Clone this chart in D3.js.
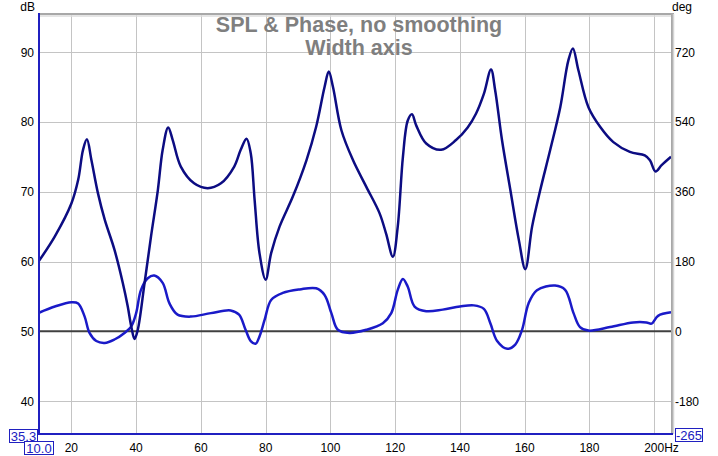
<!DOCTYPE html>
<html><head><meta charset="utf-8">
<script src="https://cdn.jsdelivr.net/npm/d3@7"></script>
<style>
html,body{margin:0;padding:0;background:#fff;}
svg{display:block;font-family:"Liberation Sans",Arial,sans-serif;}
</style></head>
<body>
<svg id="chart" width="718" height="456"></svg>
<script>
// ---- data ----
const title = ["SPL & Phase, no smoothing", "Width axis"];
const xTicks = [20, 40, 60, 80, 100, 120, 140, 160, 180, 200];
const dbTicks = [40, 50, 60, 70, 80, 90];
const degTicks = [-180, 0, 180, 360, 540, 720];
const xMin = 10.0, xMax = 205.2;
const dbMin = 35.3, dbMax = 95.45;

const splFreq = [10, 14.9, 20, 22.1, 23.6, 24.8, 26.2, 28.2, 30.3, 33.3, 35.9, 37.4, 38.5, 39.5, 40.5, 42.6, 44.6, 46.7, 48.2, 49.9, 51.3, 53.8, 57.9, 62.1, 66.2, 70.3, 72.3, 74.1, 75.4, 76.6, 78.1, 80, 81.7, 84.3, 88.4, 92.6, 95.6, 98.2, 99.5, 100.8, 103.4, 107, 111.1, 115.2, 117.2, 119.3, 120.8, 122.4, 123.9, 125.2, 126.5, 129.6, 134.2, 138.8, 142.4, 145.0, 147.4, 149.6, 150.9, 153, 155.6, 158.2, 160.2, 162.3, 164.8, 167.9, 171, 173.5, 174.9, 176.6, 179.7, 183.3, 187.4, 192.5, 197.1, 198.7, 200.4, 202.3, 205.2];
const splDb = [60.1, 63.6, 68.3, 71.7, 76.0, 77.5, 74.5, 69.8, 66.0, 61.7, 56.9, 53.6, 50.7, 48.9, 50.2, 56.9, 63.6, 70.2, 76.0, 79.2, 77.4, 73.6, 71.2, 70.5, 71.2, 73.6, 76.0, 77.6, 75.5, 68.8, 61.2, 57.4, 61.2, 65.0, 69.3, 74.5, 79.3, 85.0, 87.2, 85.0, 78.8, 74.5, 70.7, 66.9, 64.0, 60.7, 65.0, 75.0, 80.2, 81.1, 79.5, 76.9, 76.0, 77.4, 79.2, 81.2, 84.0, 87.5, 84.5, 77.4, 70.2, 63.1, 58.9, 65.0, 70.2, 76.0, 82.1, 88.8, 90.5, 87.4, 82.1, 79.3, 77.1, 75.7, 75.2, 74.5, 72.9, 73.8, 75.0];

const phaseFreq = [10, 14.9, 20, 22.1, 24.1, 25.6, 27.7, 30.3, 33.3, 36.4, 38.5, 40, 41.5, 43.6, 45.6, 48.2, 50.3, 52.8, 56.9, 63.1, 69.2, 71.8, 73.8, 75.4, 76.9, 78.1, 79.7, 81.7, 85.3, 90.5, 95.6, 98.2, 100.3, 102.3, 105.9, 111.1, 116.2, 118.8, 120.8, 122.4, 123.9, 126, 129.6, 134.7, 140, 144.3, 147.4, 149.4, 151.5, 154.6, 157.1, 159.2, 161.2, 163.8, 169.4, 172.5, 175.1, 177.1, 179.7, 186.4, 193.5, 197.6, 199.2, 201.2, 205.2];
const phaseDeg = [48, 64, 75, 72, 38, -4, -25, -30, -21, -4, 13, 47, 107, 137, 144, 125, 72, 43, 38, 47, 54, 43, 4, -25, -32, -13, 30, 81, 99, 108, 111, 94, 47, 4, -4, 4, 21, 47, 107, 135, 115, 64, 52, 56, 64, 67, 58, 21, -25, -45, -34, 4, 72, 106, 118, 107, 47, 11, 2, 11, 23, 23, 20, 40, 49];

// ---- layout ----
const L = 39, R = 671, T = 14, B = 434;
const svg = d3.select("#chart");
const x = d3.scaleLinear().domain([xMin, xMax]).range([L, R]);
const y = d3.scaleLinear().domain([dbMin, dbMax]).range([B, T]);
const y2 = d3.scaleLinear().domain([(dbMin - 50) * 18, (dbMax - 50) * 18]).range([B, T]);

const blue = "#1a1ac8", navy = "#0c0c82";

// grid
svg.append("g").selectAll("line").data(xTicks).join("line")
  .attr("x1", d => Math.round(x(d)) + 0.5).attr("x2", d => Math.round(x(d)) + 0.5)
  .attr("y1", T).attr("y2", B).attr("stroke", "#c4c4c4").attr("stroke-width", 1);
svg.append("g").selectAll("line").data(dbTicks).join("line")
  .attr("x1", L).attr("x2", R)
  .attr("y1", d => Math.round(y(d)) + 0.5).attr("y2", d => Math.round(y(d)) + 0.5)
  .attr("stroke", "#c4c4c4").attr("stroke-width", 1);

// title
const tg = svg.append("g").attr("fill", "#7f7f7f").attr("font-weight", "bold")
  .attr("font-size", "21.5px").attr("text-anchor", "middle");
tg.append("text").attr("x", 359).attr("y", 32).text(title[0]);
tg.append("text").attr("x", 359).attr("y", 55).text(title[1]);

// zero phase line
svg.append("line").attr("x1", L).attr("x2", R)
  .attr("y1", y2(0)).attr("y2", y2(0)).attr("stroke", "#404040").attr("stroke-width", 2);

// curves
const phaseData = phaseFreq.map((f, i) => [f, phaseDeg[i]]);
const splData = splFreq.map((f, i) => [f, splDb[i]]);
svg.append("path").datum(phaseData)
  .attr("d", d3.line().x(d => x(d[0])).y(d => y2(d[1])).curve(d3.curveCatmullRom.alpha(0.5)))
  .attr("fill", "none").attr("stroke", blue).attr("stroke-width", 2.5);
svg.append("path").datum(splData)
  .attr("d", d3.line().x(d => x(d[0])).y(d => y(d[1])).curve(d3.curveCatmullRom.alpha(0.5)))
  .attr("fill", "none").attr("stroke", navy).attr("stroke-width", 2.5);

// borders
svg.append("line").attr("x1", L).attr("x2", R + 3).attr("y1", T).attr("y2", T)
  .attr("stroke", "#a8a8a8").attr("stroke-width", 2);
svg.append("line").attr("x1", L).attr("x2", R + 3).attr("y1", T + 2).attr("y2", T + 2)
  .attr("stroke", "#dcdcdc").attr("stroke-width", 1.5);
svg.append("line").attr("x1", R + 1).attr("x2", R + 1).attr("y1", T).attr("y2", B)
  .attr("stroke", "#a8a8a8").attr("stroke-width", 2);
svg.append("line").attr("x1", R + 2.5).attr("x2", R + 2.5).attr("y1", T).attr("y2", B)
  .attr("stroke", "#d4d4d4").attr("stroke-width", 1.5);
svg.append("line").attr("x1", L).attr("x2", L).attr("y1", T - 1).attr("y2", B + 1)
  .attr("stroke", "#2020c0").attr("stroke-width", 2);
svg.append("line").attr("x1", L).attr("x2", R + 2).attr("y1", B).attr("y2", B)
  .attr("stroke", "#2020c0").attr("stroke-width", 2);

// axis labels
const ag = svg.append("g").attr("font-size", "12px").attr("fill", "#000");
ag.selectAll("text.l").data(dbTicks).join("text").attr("class", "l")
  .attr("x", 34).attr("y", d => y(d) + 4.5).attr("text-anchor", "end").text(d => d);
ag.selectAll("text.r").data(degTicks).join("text").attr("class", "r")
  .attr("x", 675).attr("y", d => y2(d) + 4.5).attr("text-anchor", "start").text(d => d);
ag.selectAll("text.b").data(xTicks).join("text").attr("class", "b")
  .attr("x", d => x(d)).attr("y", 452).attr("text-anchor", "middle").text(d => d);
ag.append("text").attr("x", x(200) + 10).attr("y", 452).attr("text-anchor", "start").text("Hz");
ag.append("text").attr("x", 35).attr("y", 11).attr("text-anchor", "end").text("dB");
ag.append("text").attr("x", 672).attr("y", 11).attr("text-anchor", "start").text("deg");

// boxed extent labels
function box(bx, by, bw, bh, txt) {
  svg.append("rect").attr("x", bx + 0.5).attr("y", by + 0.5).attr("width", bw).attr("height", bh)
    .attr("fill", "#fff").attr("stroke", "#2020c0").attr("stroke-width", 1);
  svg.append("text").attr("x", bx + bw / 2 + 0.5).attr("y", by + bh - 1.5)
    .attr("text-anchor", "middle").attr("font-size", "13px").attr("fill", "#2020c0").text(txt);
}
box(9, 429, 28, 13, dbMin.toFixed(1));
box(24, 441, 29, 13, xMin.toFixed(1));
box(675, 428, 27, 13, String(Math.round((dbMin - 50) * 18)));
</script>
</body></html>
